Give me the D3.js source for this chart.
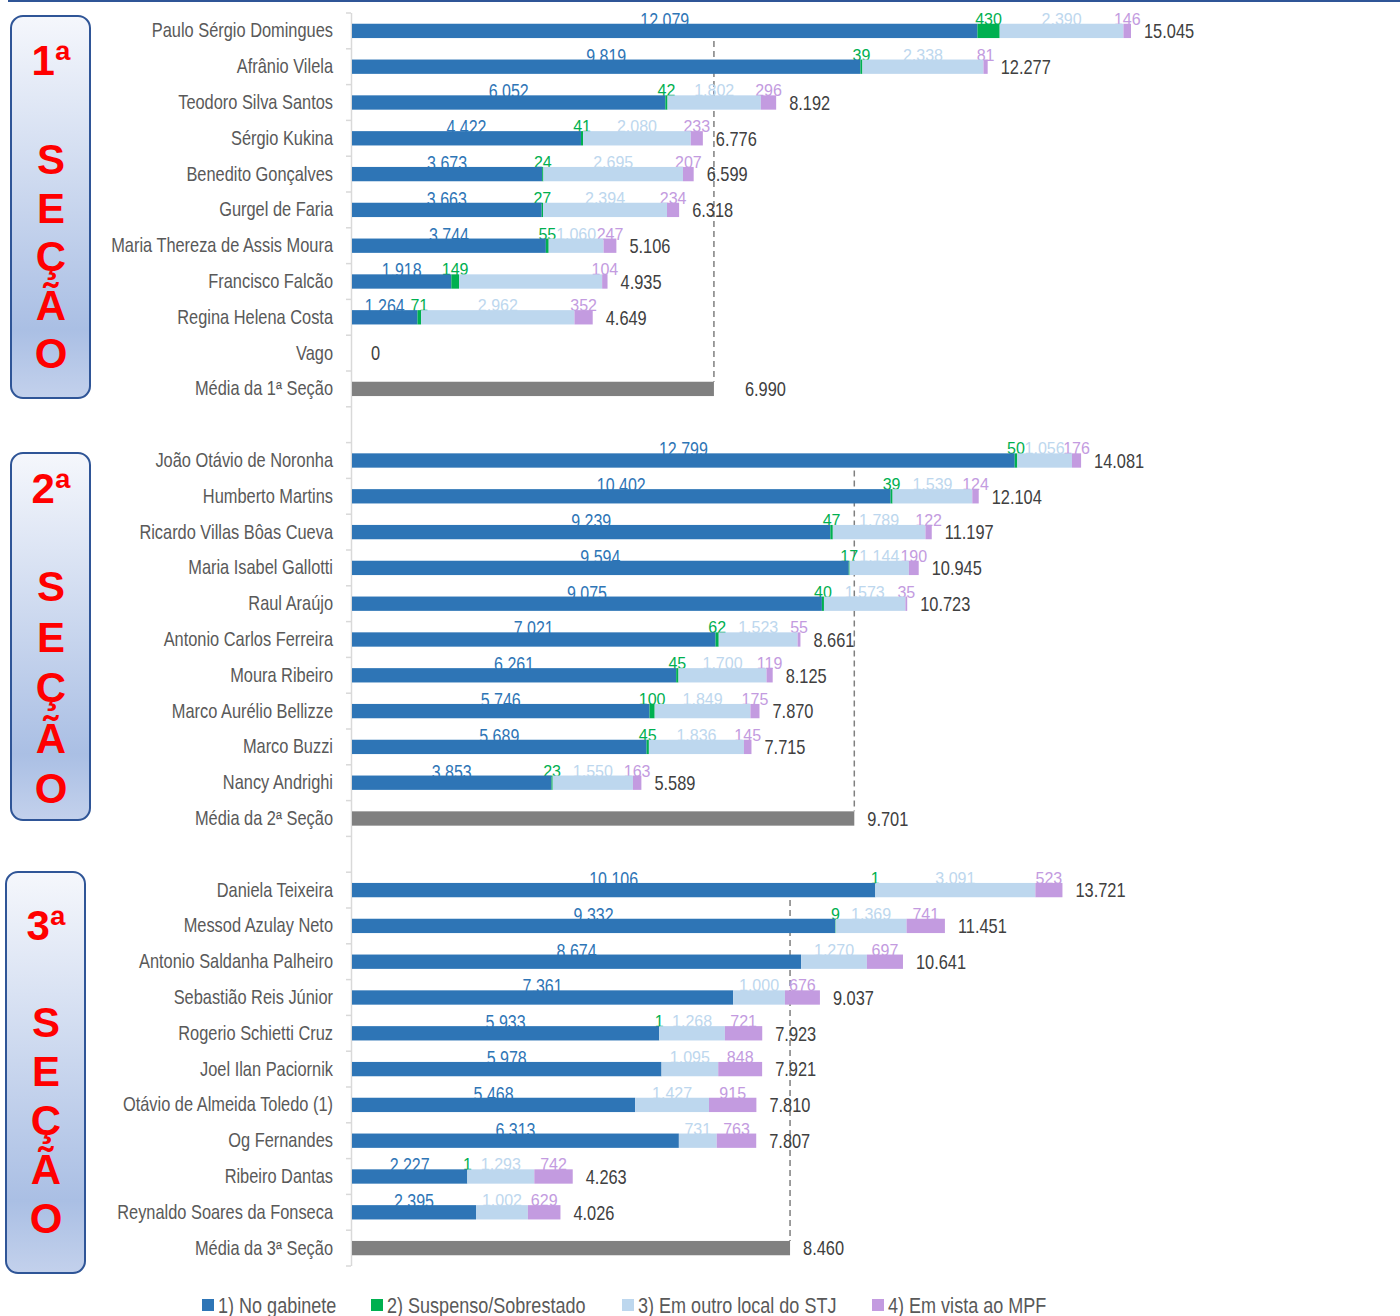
<!DOCTYPE html>
<meta charset="utf-8">
<head>
<style>
body { margin: 0; background: #fff; }
.cat text { font: 20px "Liberation Sans", Arial, sans-serif; fill: #595959; }
.lbl-gab { font: 19.5px "Liberation Sans", Arial, sans-serif; fill: #2e75b6; }
.lbl-small { font: 16px "Liberation Sans", Arial, sans-serif; }
.total { font: 20px "Liberation Sans", Arial, sans-serif; fill: #404040; }
.legend text { font: 22px "Liberation Sans", Arial, sans-serif; fill: #595959; }
.box text { font: bold 42px "Liberation Sans", Arial, sans-serif; fill: #ff0000; }
</style>
</head>
<body>
<script src="https://cdn.jsdelivr.net/npm/d3@7"></script>
<script>

// judges, 10 per section
var names = [
  "Paulo Sérgio Domingues", "Afrânio Vilela", "Teodoro Silva Santos", "Sérgio Kukina",
  "Benedito Gonçalves", "Gurgel de Faria", "Maria Thereza de Assis Moura", "Francisco Falcão",
  "Regina Helena Costa", "Vago",
  "João Otávio de Noronha", "Humberto Martins", "Ricardo Villas Bôas Cueva", "Maria Isabel Gallotti",
  "Raul Araújo", "Antonio Carlos Ferreira", "Moura Ribeiro", "Marco Aurélio Bellizze",
  "Marco Buzzi", "Nancy Andrighi",
  "Daniela Teixeira", "Messod Azulay Neto", "Antonio Saldanha Palheiro", "Sebastião Reis Júnior",
  "Rogerio Schietti Cruz", "Joel Ilan Paciornik", "Otávio de Almeida Toledo (1)", "Og Fernandes",
  "Ribeiro Dantas", "Reynaldo Soares da Fonseca"
];
var gabinete = [12079, 9819, 6052, 4422, 3673, 3663, 3744, 1918, 1264, 0,
                12799, 10402, 9239, 9594, 9075, 7021, 6261, 5746, 5689, 3853,
                10106, 9332, 8674, 7361, 5933, 5978, 5468, 6313, 2227, 2395];
var suspenso = [430, 39, 42, 41, 24, 27, 55, 149, 71, 0,
                50, 39, 47, 17, 40, 62, 45, 100, 45, 23,
                1, 9, 0, 0, 1, 0, 0, 0, 1, 0];
var outroLocal = [2390, 2338, 1802, 2080, 2695, 2394, 1060, 2764, 2962, 0,
                  1056, 1539, 1789, 1144, 1573, 1523, 1700, 1849, 1836, 1550,
                  3091, 1369, 1270, 1000, 1268, 1095, 1427, 731, 1293, 1002];
var vistaMpf = [146, 81, 296, 233, 207, 234, 247, 104, 352, 0,
                176, 124, 122, 190, 35, 55, 119, 175, 145, 163,
                523, 741, 697, 676, 721, 848, 915, 763, 742, 629];
var mediaNames = ["Média da 1ª Seção", "Média da 2ª Seção", "Média da 3ª Seção"];
var mediaValues = [6990, 9701, 8460];
var sectionTitles = ["1ª", "2ª", "3ª"];
var seriesNames = ["1) No gabinete", "2) Suspenso/Sobrestado", "3) Em outro local do STJ", "4) Em vista ao MPF"];
var hiddenLabels = ["Francisco Falcão|2"];   // label not shown in the original

var colors = ["#2e75b6", "#00b050", "#bdd7ee", "#c39be0"];
var labelColors = ["#2e75b6", "#00b050", "#bdd7ee", "#c39be0"];
var NARROW = 0.82;   // no narrow font installed -> squeeze horizontally

var W = 1400, H = 1316;
var svg = d3.select("body").append("svg")
    .attr("width", W).attr("height", H);

var fmt = function(v) { return d3.format(",")(v).replace(/,/g, "."); };

// build rows: 10 judges + média + blank row between sections
var rows = [];
for (var s = 0; s < 3; s++) {
  for (var j = 0; j < 10; j++) {
    var i = s * 10 + j;
    rows.push({key: "r" + rows.length, name: names[i], type: "judge", section: s,
               vals: [gabinete[i], suspenso[i], outroLocal[i], vistaMpf[i]]});
  }
  rows.push({key: "r" + rows.length, name: mediaNames[s], type: "media", section: s, vals: [mediaValues[s]]});
  if (s < 2) rows.push({key: "r" + rows.length, name: "", type: "blank", section: s, vals: []});
}
rows.forEach(function(r) { r.total = d3.sum(r.vals); });

var x = d3.scaleLinear().domain([0, 15045]).range([352, 1131]);
var y = d3.scaleBand()
    .domain(rows.map(function(d) { return d.key; }))
    .range([13, 1266])
    .paddingInner(0.6)
    .paddingOuter(0.3);
var bw = y.bandwidth();
var step = y.step();

// top rule
svg.append("line").attr("x1", 8).attr("x2", W).attr("y1", 1).attr("y2", 1)
    .attr("stroke", "#2f5597").attr("stroke-width", 2);

// section boxes
var boxes = [
  {x: 11, top: 16, bottom: 398, title: 59, first: 158, step: 48.6},
  {x: 11, top: 453, bottom: 820, title: 50, first: 148, step: 50.5},
  {x: 6, top: 872, bottom: 1273, title: 68, first: 165, step: 49}
];
var defs = svg.append("defs");
var grad = defs.append("linearGradient").attr("id", "boxgrad")
    .attr("x1", 0).attr("y1", 0).attr("x2", 0).attr("y2", 1);
grad.append("stop").attr("offset", "0%").attr("stop-color", "#f5f7fc");
grad.append("stop").attr("offset", "82%").attr("stop-color", "#aabfe4");
grad.append("stop").attr("offset", "100%").attr("stop-color", "#c3d1ec");

boxes.forEach(function(b, k) {
  var g = svg.append("g").attr("class", "box");
  g.append("rect").attr("x", b.x).attr("y", b.top)
      .attr("width", 79).attr("height", b.bottom - b.top)
      .attr("rx", 12).attr("ry", 12)
      .attr("fill", "url(#boxgrad)")
      .attr("stroke", "#2f5597").attr("stroke-width", 2);
  var cx = b.x + 40;
  g.append("text").attr("x", cx).attr("y", b.top + b.title)
      .attr("text-anchor", "middle").text(sectionTitles[k]);
  "SEÇÃO".split("").forEach(function(ch, n) {
    g.append("text").attr("x", cx).attr("y", b.top + b.first + n * b.step)
        .attr("text-anchor", "middle").text(ch);
  });
});

// axis line with ticks on band boundaries
var axisG = svg.append("g");
axisG.append("line").attr("x1", 351.5).attr("x2", 351.5).attr("y1", 13).attr("y2", 1266)
    .attr("stroke", "#d9d9d9").attr("stroke-width", 1.5);
d3.range(rows.length + 1).forEach(function(k) {
  var yy = 13 + k * step;
  axisG.append("line").attr("x1", 346).attr("x2", 351).attr("y1", yy).attr("y2", yy)
      .attr("stroke", "#d9d9d9").attr("stroke-width", 1.5);
});

// category labels
var catAxis = d3.axisLeft(y).tickSize(0).tickPadding(0)
    .tickFormat(function(k) { return rows.find(function(r) { return r.key === k; }).name; });
svg.append("g").attr("class", "cat")
    .attr("transform", "translate(333,0)")
    .call(catAxis)
    .call(function(g) {
      g.select(".domain").remove();
      g.selectAll("text").attr("transform", "scale(" + NARROW + ",1)");
    });

// dashed average lines (behind bars)
[0, 1, 2].forEach(function(s) {
  var first = rows.filter(function(r) { return r.section === s && r.type === "judge"; })[0];
  var med = rows.filter(function(r) { return r.section === s && r.type === "media"; })[0];
  svg.append("line")
      .attr("x1", x(med.total)).attr("x2", x(med.total))
      .attr("y1", y(first.key) + bw / 2).attr("y2", y(med.key))
      .attr("stroke", "#7f7f7f").attr("stroke-width", 1.5)
      .attr("stroke-dasharray", "6,4");
});

// segments
var segs = [];
rows.filter(function(r) { return r.type === "judge"; }).forEach(function(r) {
  var acc = 0;
  r.vals.forEach(function(v, k) {
    segs.push({row: r, k: k, v: v, x0: acc, x1: acc + v});
    acc += v;
  });
});

// labels drawn first so bars overlap them a little
var labelG = svg.append("g");
labelG.selectAll("text").data(segs.filter(function(d) {
    return d.v > 0 && hiddenLabels.indexOf(d.row.name + "|" + d.k) < 0;
  }))
  .enter().append("text")
  .attr("class", function(d) { return d.k === 0 ? "lbl-gab" : "lbl-small"; })
  .attr("transform", function(d) {
    var cx = (x(d.x0) + x(d.x1)) / 2;
    var cy = y(d.row.key) + (d.k === 0 ? 3 : 1);
    return "translate(" + cx + "," + cy + ")" + (d.k === 0 ? " scale(" + NARROW + ",1)" : "");
  })
  .attr("text-anchor", "middle")
  .attr("fill", function(d) { return labelColors[d.k]; })
  .text(function(d) { return fmt(d.v); });

svg.append("g").selectAll("rect").data(segs.filter(function(d) { return d.v > 0; }))
  .enter().append("rect")
  .attr("x", function(d) { return x(d.x0); })
  .attr("y", function(d) { return y(d.row.key); })
  .attr("width", function(d) { return x(d.x1) - x(d.x0); })
  .attr("height", bw)
  .attr("fill", function(d) { return colors[d.k]; });

// average bars
svg.append("g").selectAll("rect").data(rows.filter(function(r) { return r.type === "media"; }))
  .enter().append("rect")
  .attr("x", x(0))
  .attr("y", function(d) { return y(d.key); })
  .attr("width", function(d) { return x(d.total) - x(0); })
  .attr("height", bw)
  .attr("fill", "#808080");

// totals
svg.append("g").selectAll("text").data(rows.filter(function(r) { return r.type !== "blank"; }))
  .enter().append("text")
  .attr("class", "total")
  .attr("transform", function(d) {
    var tx = x(d.total) + (d.type === "media" && d.section === 0 ? 31 : (d.total === 0 ? 19 : 13));
    return "translate(" + tx + "," + (y(d.key) + bw / 2) + ") scale(" + NARROW + ",1)";
  })
  .attr("dy", "0.36em")
  .text(function(d) { return fmt(d.total); });

// legend
var legendX = [202, 371, 622, 872];
var leg = svg.append("g").attr("class", "legend");
seriesNames.forEach(function(n, k) {
  leg.append("rect").attr("x", legendX[k]).attr("y", 1299)
      .attr("width", 12).attr("height", 12).attr("fill", colors[k]);
  leg.append("text")
      .attr("transform", "translate(" + (legendX[k] + 16) + ",1313) scale(" + NARROW + ",1)")
      .text(n);
});

</script>
</body>
